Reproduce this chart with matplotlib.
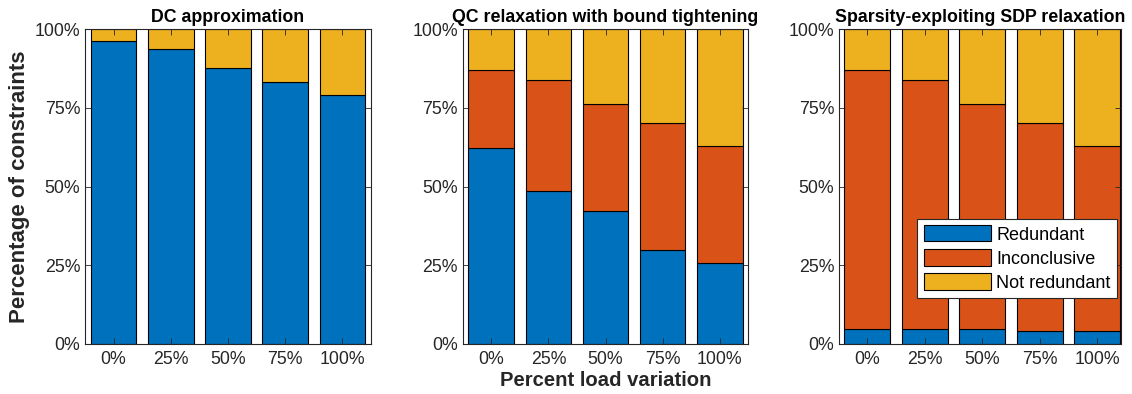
import matplotlib
matplotlib.use("Agg")
import matplotlib.pyplot as plt
import numpy as np
from matplotlib.patches import Patch

plt.rcParams['font.family'] = ['Liberation Sans', 'DejaVu Sans']

categories = ["0%", "25%", "50%", "75%", "100%"]
series_names = ["Redundant", "Inconclusive", "Not redundant"]
colors = ["#0072BD", "#D95319", "#EDB120"]

titles = ["DC approximation",
          "QC relaxation with bound tightening",
          "Sparsity-exploiting SDP relaxation"]

# percentages per panel: redundant, inconclusive (not redundant = remainder)
dc_redundant = [96.3, 93.5, 87.5, 83.3, 79.0]
dc_inconclusive = [0.0, 0.0, 0.0, 0.0, 0.0]

qc_redundant = [62.3, 48.7, 42.3, 29.9, 25.7]
qc_inconclusive = [24.7, 35.1, 33.9, 40.4, 37.2]

sdp_redundant = [4.7, 4.7, 4.7, 4.1, 4.1]
sdp_inconclusive = [82.3, 79.1, 71.5, 66.2, 58.8]

panels = [(dc_redundant, dc_inconclusive),
          (qc_redundant, qc_inconclusive),
          (sdp_redundant, sdp_inconclusive)]

ytick_vals = [0, 25, 50, 75, 100]
ytick_labels = ["0%", "25%", "50%", "75%", "100%"]

W, H = 1132, 394
fig = plt.figure(figsize=(W / 100, H / 100), dpi=100)

# axes boxes in pixels: left, right
boxes = [(85, 371), (462.7, 748.3), (839, 1121)]
xlims = [(0.5, 5.5), (0.5, 5.5), (0.508, 5.418)]
top_px, bot_px = 29, 344

axc = (0.15, 0.15, 0.15)
axes = []
for i, ((l, r), (red, inc)) in enumerate(zip(boxes, panels)):
    ax = fig.add_axes([l / W, 1 - bot_px / H, (r - l) / W, (bot_px - top_px) / H])
    axes.append(ax)
    x = np.arange(1, len(categories) + 1)
    red = np.array(red)
    inc = np.array(inc)
    notred = 100 - red - inc
    ax.bar(x, red, width=0.8, color=colors[0], edgecolor='black', linewidth=0.8)
    if i > 0:
        ax.bar(x, inc, width=0.8, bottom=red, color=colors[1], edgecolor='black', linewidth=0.8)
    ax.bar(x, notred, width=0.8, bottom=red + inc, color=colors[2], edgecolor='black', linewidth=0.8)
    ax.set_xlim(*xlims[i])
    ax.set_ylim(0, 100)
    ax.set_xticks(x)
    ax.set_xticklabels(categories)
    ax.set_yticks(ytick_vals)
    ax.set_yticklabels(ytick_labels)
    ax.tick_params(direction='in', length=4, width=0.6, color=axc, labelcolor=axc,
                   labelsize=12.8, top=True, right=True)
    ax.tick_params(axis='y', pad=3.5)
    ax.tick_params(axis='x', pad=5.3)
    for s in ax.spines.values():
        s.set_color(axc)
        s.set_linewidth(0.8)
    ax.set_title(titles[i], fontsize=12.8, fontweight='bold', pad=5)

axes[0].set_ylabel("Percentage of constraints", fontsize=16, fontweight='bold', color=axc, labelpad=3)
axes[1].set_xlabel("Percent load variation", fontsize=14.6, fontweight='bold', color=axc,
                   va='baseline')
axes[1].xaxis.set_label_coords(0.5, -(385.5 - bot_px) / (bot_px - top_px))

handles = [Patch(facecolor=c, edgecolor='black', linewidth=0.8) for c in colors]
leg = axes[2].legend(handles, series_names, loc='upper left',
                     bbox_to_anchor=(917.3 / W, 1 - 219 / H), bbox_transform=fig.transFigure,
                     fontsize=13, handlelength=3.75, handleheight=1.0, handletextpad=0.28,
                     labelspacing=0.32, borderpad=0.35, borderaxespad=0, fancybox=False,
                     framealpha=1, edgecolor=axc)
leg.get_frame().set_linewidth(0.8)
for t in leg.get_texts():
    t.set_color('black')

fig.savefig("out.png", dpi=100)
